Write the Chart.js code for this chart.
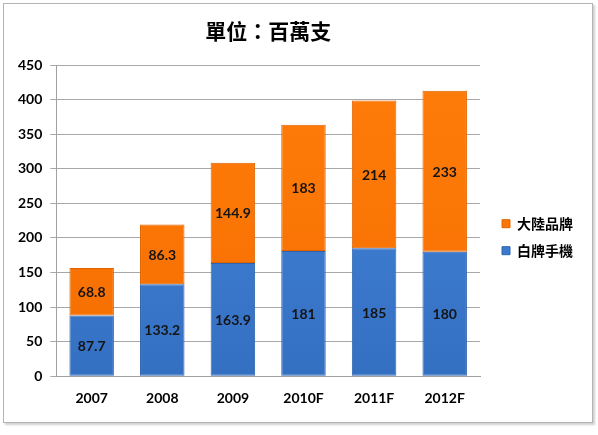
<!DOCTYPE html>
<html>
<head>
<meta charset="utf-8">
<script src="https://cdn.jsdelivr.net/npm/chart.js@4/dist/chart.umd.min.js"></script>
<style>
  html, body { margin: 0; padding: 0; background: #fff; }
  #frame {
    position: absolute; left: 3px; top: 3px; width: 588px; height: 418px;
    border: 1px solid #b4b4b4; box-shadow: 2px 2px 2px #d0d0d0;
  }
  #wrap { position: absolute; left: 0; top: 0; width: 598px; height: 435px; }
</style>
</head>
<body>
<div id="frame"></div>
<div id="wrap"><canvas id="myChart" width="598" height="435"></canvas></div>
<script>
// data
var years = ['2007', '2008', '2009', '2010F', '2011F', '2012F'];
var whiteBrand = [87.7, 133.2, 163.9, 181, 185, 180];   // 白牌手機
var chinaBrand = [68.8, 86.3, 144.9, 183, 214, 233];    // 大陸品牌
var yTicks = [0, 50, 100, 150, 200, 250, 300, 350, 400, 450];

var fontName = "Lato, 'Noto Sans CJK TC', sans-serif";

function vGrad(chart, top, bottom) {
  var area = chart.chartArea;
  if (!area) return top;
  var g = chart.ctx.createLinearGradient(0, area.top, 0, area.bottom);
  g.addColorStop(0, top);
  g.addColorStop(1, bottom);
  return g;
}

// draws the number in the middle of each bar piece
var barLabels = {
  id: 'barLabels',
  afterDatasetsDraw: function(chart) {
    var ctx = chart.ctx;
    ctx.save();
    ctx.font = "bold 14px " + fontName;
    ctx.fillStyle = '#141414';
    ctx.textAlign = 'center';
    ctx.textBaseline = 'middle';
    chart.data.datasets.forEach(function(ds, i) {
      var meta = chart.getDatasetMeta(i);
      meta.data.forEach(function(bar, j) {
        ctx.fillText(String(ds.data[j]), bar.x, (bar.y + bar.base) / 2 + 1);
      });
    });
    ctx.restore();
  }
};

// widen the legend box a bit and nudge it right
var legendSpace = {
  id: 'legendSpace',
  beforeLayout: function(chart) {
    var lg = chart.legend;
    if (lg && !lg._patched) {
      var fit = lg.fit;
      lg.fit = function() { fit.call(this); this.width += 8; };
      lg._patched = true;
    }
  },
  afterLayout: function(chart) {
    var lg = chart.legend;
    if (lg) { lg.left += 9; lg.right += 9; }
  }
};

new Chart('myChart', {
  type: 'bar',
  data: {
    labels: years,
    datasets: [{
      label: '白牌手機',
      data: whiteBrand,
      backgroundColor: function(c) { return vGrad(c.chart, '#4686dc', '#3470c2'); },
      borderColor: '#2f64ad',
      borderWidth: 1,
      borderSkipped: false
    }, {
      label: '大陸品牌',
      data: chinaBrand,
      backgroundColor: function(c) { return vGrad(c.chart, '#ff7d0a', '#f56e00'); },
      borderColor: '#e06400',
      borderWidth: 1,
      borderSkipped: false
    }]
  },
  options: {
    responsive: false,
    animation: false,
    categoryPercentage: 0.63,
    barPercentage: 1,
    layout: { padding: { left: 10, right: 16, top: 0, bottom: 22 } },
    plugins: {
      title: {
        display: true,
        text: '單位：百萬支',
        fullSize: false,
        color: '#000',
        font: { family: "'Noto Sans CJK TC', sans-serif", size: 21, weight: 'bold' },
        padding: { top: 18, bottom: 22 }
      },
      legend: {
        position: 'right',
        reverse: true,
        title: { display: true, text: '', padding: { top: 47, bottom: 0 } },
        labels: {
          boxWidth: 8,
          boxHeight: 8,
          color: '#000',
          padding: 13,
          font: { family: "'Noto Sans CJK TC', sans-serif", size: 14, weight: 'bold' }
        }
      },
      tooltip: { enabled: false }
    },
    scales: {
      x: {
        stacked: true,
        grid: { display: false },
        border: { color: '#a0a0a0' },
        ticks: { color: '#000', padding: 6, font: { family: fontName, size: 14, weight: 'bold' } }
      },
      y: {
        stacked: true,
        min: 0,
        max: 450,
        afterBuildTicks: function(axis) {
          axis.ticks = yTicks.map(function(v) { return { value: v }; });
        },
        grid: { color: '#a8a8a8', tickLength: 6 },
        border: { color: '#a0a0a0' },
        ticks: { color: '#000', padding: 8, font: { family: fontName, size: 14, weight: 'bold' } }
      }
    }
  },
  plugins: [barLabels, legendSpace]
});
</script>
</body>
</html>
